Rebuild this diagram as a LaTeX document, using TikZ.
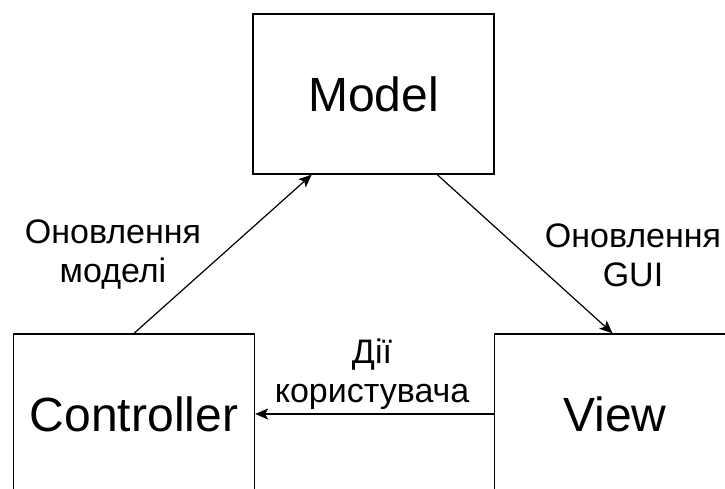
\documentclass[tikz,border=0pt]{standalone}
\usepackage{fontspec}
\setmainfont{Liberation Sans}
\usetikzlibrary{arrows.meta,calc}
\begin{document}
\begin{tikzpicture}[x=1pt,y=1pt,
  box/.style={draw=black,line width=1.3pt,fill=white,minimum width=241pt,minimum height=160pt,inner sep=0pt,font=\fontsize{48}{57}\selectfont},
  lbl/.style={align=center,inner sep=0pt,font=\fontsize{34}{39}\selectfont},
  conn/.style={line width=1.2pt,-{Stealth[length=13pt,width=11pt,inset=3pt]}}]
\clip (0,0) rectangle (725,488);
\fill[white] (0,0) rectangle (725,488);
\node[box] (model) at (373.5,394) {Model};
\node[box] (ctrl) at (134,74) {Controller};
\node[box] (view) at (615,74) {View};
\draw[conn] (ctrl.north) -- ($(model.south west)!0.245!(model.south east)$);
\draw[conn] ($(model.south west)!0.763!(model.south east)$) -- ($(view.north west)!0.49!(view.north east)$);
\draw[conn] (view.west) -- (ctrl.east);
\node[lbl] (lblmodel) at (113,233) {Оновлення\\моделі};
\node[lbl] (lblgui) at (633,233) {Оновлення\\GUI};
\node[lbl] (lbluser) at (372,114) {Дії\\користувача};
\end{tikzpicture}
\end{document}
